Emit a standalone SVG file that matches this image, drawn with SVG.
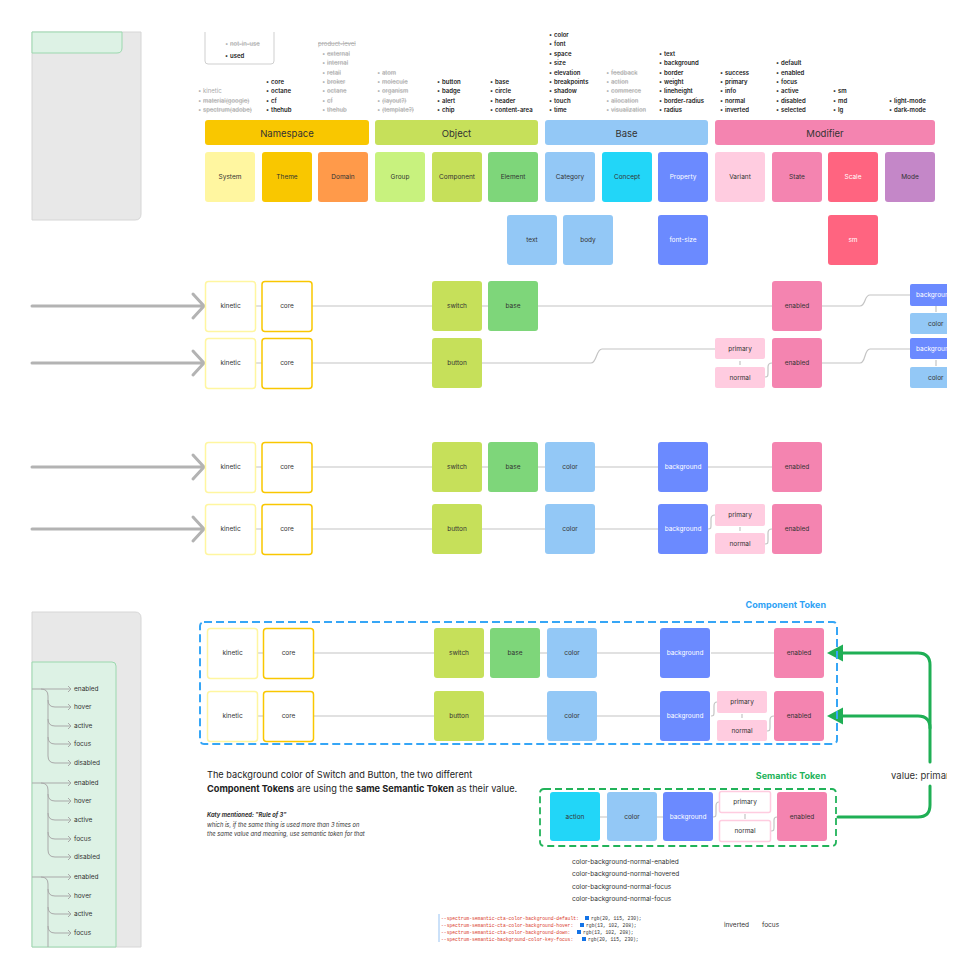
<svg xmlns="http://www.w3.org/2000/svg" width="980" height="980" viewBox="0 0 980 980">
<defs>
<style>
text{font-family:Inter,"Noto Sans","Liberation Sans",sans-serif;dominant-baseline:central}
.t{font-size:6.5px;fill:#333;text-anchor:middle}
.w{fill:#fff}
.h{font-size:9.5px;fill:#333;text-anchor:middle}
.li{font-size:6px;font-weight:600;fill:#222}
.lg{font-size:6px;fill:#aaa}
.s{text-decoration:line-through}
.ln{fill:none;stroke:#c4c4c4;stroke-width:1.2}
.ar{fill:none;stroke:#b3b3b3;stroke-width:3;stroke-linecap:round;stroke-linejoin:round}
.tr{fill:none;stroke:#a9a9a9;stroke-width:1}
.gr{fill:none;stroke:#1faf55;stroke-width:3;stroke-linecap:round}
.ti{font-size:5.8px;fill:#333}
.code{font-family:"Liberation Mono",monospace;font-size:4.7px}
</style>
<clipPath id="clipR"><rect x="0" y="0" width="947" height="980"/></clipPath>
</defs>
<rect width="980" height="980" fill="#fff"/>

<!-- top-left panel -->
<g id="panel-top">
<path d="M32,32 H141 V214 Q141,220 135,220 H32 Z" fill="#e8e8e8" stroke="#d6d6d6" stroke-width="1"/>
<path d="M32,32 H122 V48 Q122,53 117,53 H32 Z" fill="#ddf2e5" stroke="#9bd8ae" stroke-width="1"/>
</g>

<!-- legend -->
<g id="legend">
<path d="M205,32 V61 Q205,64 208,64 H271 Q274,64 274,61 V32" fill="#fff" stroke="#cfcfcf" stroke-width="1"/>
<text y="43"><tspan x="225" class="lg">•</tspan><tspan x="230" class="lg s">not-in-use</tspan></text>
<text y="55"><tspan x="225" class="li">•</tspan><tspan x="230" class="li">used</tspan></text>
</g>

<!-- lists -->
<g id="lists">
<text y="90"><tspan x="198" class="lg">•</tspan><tspan x="203" class="lg">kinetic</tspan></text>
<text y="100"><tspan x="198" class="lg">•</tspan><tspan x="203" class="lg s">material(google)</tspan></text>
<text y="109"><tspan x="198" class="lg">•</tspan><tspan x="203" class="lg s">spectrum(adobe)</tspan></text>

<text y="81"><tspan x="266" class="li">•</tspan><tspan x="271" class="li">core</tspan></text>
<text y="90"><tspan x="266" class="li">•</tspan><tspan x="271" class="li">octane</tspan></text>
<text y="100"><tspan x="266" class="li">•</tspan><tspan x="271" class="li">cf</tspan></text>
<text y="109"><tspan x="266" class="li">•</tspan><tspan x="271" class="li">thehub</tspan></text>

<text x="318" y="43" class="lg s">product-level</text>
<text y="53"><tspan x="322" class="lg">•</tspan><tspan x="327" class="lg s">external</tspan></text>
<text y="62"><tspan x="322" class="lg">•</tspan><tspan x="327" class="lg s">internal</tspan></text>
<text y="72"><tspan x="322" class="lg">•</tspan><tspan x="327" class="lg s">retail</tspan></text>
<text y="81"><tspan x="322" class="lg">•</tspan><tspan x="327" class="lg s">broker</tspan></text>
<text y="90"><tspan x="322" class="lg">•</tspan><tspan x="327" class="lg s">octane</tspan></text>
<text y="100"><tspan x="322" class="lg">•</tspan><tspan x="327" class="lg s">cf</tspan></text>
<text y="109"><tspan x="322" class="lg">•</tspan><tspan x="327" class="lg s">thehub</tspan></text>

<text y="72"><tspan x="377" class="lg">•</tspan><tspan x="382" class="lg s">atom</tspan></text>
<text y="81"><tspan x="377" class="lg">•</tspan><tspan x="382" class="lg s">molecule</tspan></text>
<text y="90"><tspan x="377" class="lg">•</tspan><tspan x="382" class="lg s">organism</tspan></text>
<text y="100"><tspan x="377" class="lg">•</tspan><tspan x="382" class="lg s">(layout?)</tspan></text>
<text y="109"><tspan x="377" class="lg">•</tspan><tspan x="382" class="lg s">(template?)</tspan></text>

<text y="81"><tspan x="437" class="li">•</tspan><tspan x="442" class="li">button</tspan></text>
<text y="90"><tspan x="437" class="li">•</tspan><tspan x="442" class="li">badge</tspan></text>
<text y="100"><tspan x="437" class="li">•</tspan><tspan x="442" class="li">alert</tspan></text>
<text y="109"><tspan x="437" class="li">•</tspan><tspan x="442" class="li">chip</tspan></text>

<text y="81"><tspan x="490" class="li">•</tspan><tspan x="495" class="li">base</tspan></text>
<text y="90"><tspan x="490" class="li">•</tspan><tspan x="495" class="li">circle</tspan></text>
<text y="100"><tspan x="490" class="li">•</tspan><tspan x="495" class="li">header</tspan></text>
<text y="109"><tspan x="490" class="li">•</tspan><tspan x="495" class="li">content-area</tspan></text>

<text y="34"><tspan x="549" class="li">•</tspan><tspan x="554" class="li">color</tspan></text>
<text y="43"><tspan x="549" class="li">•</tspan><tspan x="554" class="li">font</tspan></text>
<text y="53"><tspan x="549" class="li">•</tspan><tspan x="554" class="li">space</tspan></text>
<text y="62"><tspan x="549" class="li">•</tspan><tspan x="554" class="li">size</tspan></text>
<text y="72"><tspan x="549" class="li">•</tspan><tspan x="554" class="li">elevation</tspan></text>
<text y="81"><tspan x="549" class="li">•</tspan><tspan x="554" class="li">breakpoints</tspan></text>
<text y="90"><tspan x="549" class="li">•</tspan><tspan x="554" class="li">shadow</tspan></text>
<text y="100"><tspan x="549" class="li">•</tspan><tspan x="554" class="li">touch</tspan></text>
<text y="109"><tspan x="549" class="li">•</tspan><tspan x="554" class="li">time</tspan></text>

<text y="72"><tspan x="606" class="lg">•</tspan><tspan x="611" class="lg s">feedback</tspan></text>
<text y="81"><tspan x="606" class="lg">•</tspan><tspan x="611" class="lg s">action</tspan></text>
<text y="90"><tspan x="606" class="lg">•</tspan><tspan x="611" class="lg s">commerce</tspan></text>
<text y="100"><tspan x="606" class="lg">•</tspan><tspan x="611" class="lg s">allocation</tspan></text>
<text y="109"><tspan x="606" class="lg">•</tspan><tspan x="611" class="lg s">visualization</tspan></text>

<text y="53"><tspan x="659" class="li">•</tspan><tspan x="664" class="li">text</tspan></text>
<text y="62"><tspan x="659" class="li">•</tspan><tspan x="664" class="li">background</tspan></text>
<text y="72"><tspan x="659" class="li">•</tspan><tspan x="664" class="li">border</tspan></text>
<text y="81"><tspan x="659" class="li">•</tspan><tspan x="664" class="li">weight</tspan></text>
<text y="90"><tspan x="659" class="li">•</tspan><tspan x="664" class="li">lineheight</tspan></text>
<text y="100"><tspan x="659" class="li">•</tspan><tspan x="664" class="li">border-radius</tspan></text>
<text y="109"><tspan x="659" class="li">•</tspan><tspan x="664" class="li">radius</tspan></text>

<text y="72"><tspan x="720" class="li">•</tspan><tspan x="725" class="li">success</tspan></text>
<text y="81"><tspan x="720" class="li">•</tspan><tspan x="725" class="li">primary</tspan></text>
<text y="90"><tspan x="720" class="li">•</tspan><tspan x="725" class="li">info</tspan></text>
<text y="100"><tspan x="720" class="li">•</tspan><tspan x="725" class="li">normal</tspan></text>
<text y="109"><tspan x="720" class="li">•</tspan><tspan x="725" class="li">inverted</tspan></text>

<text y="62"><tspan x="776" class="li">•</tspan><tspan x="781" class="li">default</tspan></text>
<text y="72"><tspan x="776" class="li">•</tspan><tspan x="781" class="li">enabled</tspan></text>
<text y="81"><tspan x="776" class="li">•</tspan><tspan x="781" class="li">focus</tspan></text>
<text y="90"><tspan x="776" class="li">•</tspan><tspan x="781" class="li">active</tspan></text>
<text y="100"><tspan x="776" class="li">•</tspan><tspan x="781" class="li">disabled</tspan></text>
<text y="109"><tspan x="776" class="li">•</tspan><tspan x="781" class="li">selected</tspan></text>

<text y="90"><tspan x="833" class="li">•</tspan><tspan x="838" class="li">sm</tspan></text>
<text y="100"><tspan x="833" class="li">•</tspan><tspan x="838" class="li">md</tspan></text>
<text y="109"><tspan x="833" class="li">•</tspan><tspan x="838" class="li">lg</tspan></text>

<text y="100"><tspan x="889" class="li">•</tspan><tspan x="894" class="li">light-mode</tspan></text>
<text y="109"><tspan x="889" class="li">•</tspan><tspan x="894" class="li">dark-mode</tspan></text>
</g>

<!-- headers -->
<g id="h-namespace"><rect x="205" y="120" width="164" height="25" rx="3" fill="#f9c700"/><text x="287" y="133" class="h">Namespace</text></g>
<g id="h-object"><rect x="375" y="120" width="163" height="25" rx="3" fill="#c6e05a"/><text x="456.5" y="133" class="h">Object</text></g>
<g id="h-base"><rect x="545" y="120" width="163" height="25" rx="3" fill="#93c8f6"/><text x="626.5" y="133" class="h">Base</text></g>
<g id="h-modifier"><rect x="715" y="120" width="220" height="25" rx="3" fill="#f484b0"/><text x="825" y="133" class="h">Modifier</text></g>

<!-- category row -->
<g id="c-system"><rect x="205" y="152" width="50" height="50" rx="3" fill="#fff6a0"/><text x="230" y="177" class="t">System</text></g>
<g id="c-theme"><rect x="262" y="152" width="50" height="50" rx="3" fill="#f9c700"/><text x="287" y="177" class="t">Theme</text></g>
<g id="c-domain"><rect x="318" y="152" width="50" height="50" rx="3" fill="#ff9a4a"/><text x="343" y="177" class="t">Domain</text></g>
<g id="c-group"><rect x="375" y="152" width="50" height="50" rx="3" fill="#c8f27e"/><text x="400" y="177" class="t">Group</text></g>
<g id="c-component"><rect x="432" y="152" width="50" height="50" rx="3" fill="#c6e05a"/><text x="457" y="177" class="t">Component</text></g>
<g id="c-element"><rect x="488" y="152" width="50" height="50" rx="3" fill="#7ed67a"/><text x="513" y="177" class="t">Element</text></g>
<g id="c-category"><rect x="545" y="152" width="50" height="50" rx="3" fill="#93c8f6"/><text x="570" y="177" class="t">Category</text></g>
<g id="c-concept"><rect x="602" y="152" width="50" height="50" rx="3" fill="#22d6f8"/><text x="627" y="177" class="t">Concept</text></g>
<g id="c-property"><rect x="658" y="152" width="50" height="50" rx="3" fill="#6b8aff"/><text x="683" y="177" class="t w">Property</text></g>
<g id="c-variant"><rect x="715" y="152" width="50" height="50" rx="3" fill="#ffcce0"/><text x="740" y="177" class="t">Variant</text></g>
<g id="c-state"><rect x="772" y="152" width="50" height="50" rx="3" fill="#f484b0"/><text x="797" y="177" class="t">State</text></g>
<g id="c-scale"><rect x="828" y="152" width="50" height="50" rx="3" fill="#ff6480"/><text x="853" y="177" class="t w">Scale</text></g>
<g id="c-mode"><rect x="885" y="152" width="50" height="50" rx="3" fill="#c487c8"/><text x="910" y="177" class="t">Mode</text></g>

<g id="e-text"><rect x="507" y="215" width="50" height="50" rx="3" fill="#93c8f6"/><text x="532" y="240" class="t">text</text></g>
<g id="e-body"><rect x="563" y="215" width="50" height="50" rx="3" fill="#93c8f6"/><text x="588" y="240" class="t">body</text></g>
<g id="e-fontsize"><rect x="658" y="215" width="50" height="50" rx="3" fill="#6b8aff"/><text x="683" y="240" class="t w">font-size</text></g>
<g id="e-sm"><rect x="828" y="215" width="50" height="50" rx="3" fill="#ff6480"/><text x="853" y="240" class="t w">sm</text></g>

<!-- connectors -->
<g id="connectors">
<path class="ar" d="M32,306 H203 M193,294 L204,306 L193,318"/>
<path class="ar" d="M32,363 H203 M193,351 L204,363 L193,375"/>
<path class="ar" d="M32,467 H203 M193,455 L204,467 L193,479"/>
<path class="ar" d="M32,529 H203 M193,517 L204,529 L193,541"/>
<path class="ln" d="M255,306 H262 M312,306 H432 M482,306 H488 M538,306 H772"/>
<path class="ln" d="M822,306 H860 C866,306 864,295 870,295 H910 M936,306 V312"/>
<path class="ln" d="M255,363 H262 M312,363 H432 M482,363 H591 C597,363 596,349 602,349 H715 M740,361 V365"/>
<path class="ln" d="M765,377 C768,377 768,376 768,372 V367 C768,364 769,363 772,363"/>
<path class="ln" d="M822,363 H860 C866,363 864,349 870,349 H910 M936,360 V366"/>
<path class="ln" d="M255,467 H262 M312,467 H432 M482,467 H488 M538,467 H545 M595,467 H658 M708,467 H772"/>
<path class="ln" d="M255,529 H262 M312,529 H432 M482,529 H545 M595,529 H658 M740,527 V531"/>
<path class="ln" d="M708,529 C711,529 711,528 711,525 V519 C711,516 712,515 715,515"/>
<path class="ln" d="M765,544 C768,544 768,543 768,540 V533 C768,530 769,529 772,529"/>
<path class="ln" d="M257,653 H263 M313,653 H434 M484,653 H490 M540,653 H547 M597,653 H660 M711,653 H774"/>
<path class="ln" d="M257,716 H263 M313,716 H434 M484,716 H547 M597,716 H660 M742,714 V718"/>
<path class="ln" d="M711,716 C714,716 714,715 714,712 V706 C714,703 715,702 717,702"/>
<path class="ln" d="M767,731 C770,731 770,730 770,727 V720 C770,717 771,716 774,716"/>
<path class="ln" d="M600,817 H607 M657,817 H663 M745,814 V819"/>
<path class="ln" d="M713,817 C716,817 716,816 716,813 V806 C716,803 717,802 719,802"/>
<path class="ln" d="M771,831 C774,831 774,830 774,827 V820 C774,818 775,817 777,817"/>
<path class="gr" d="M838,817 H918 Q930,817 930,805 V786"/>
<path class="gr" d="M930,762 V665 Q930,653 918,653 H840"/>
<path class="gr" d="M930,728 Q930,716 918,716 H840"/>
<polygon points="827,653 843,644.5 843,661.5" fill="#1faf55"/>
<polygon points="827,716 843,707.5 843,724.5" fill="#1faf55"/>
</g>

<!-- row A nodes -->
<g id="rA-kinetic"><rect x="205.5" y="281.5" width="50" height="50" rx="3" fill="#fff" stroke="#fff6a0" stroke-width="1.5"/><text x="230.5" y="306" class="t">kinetic</text></g>
<g id="rA-core"><rect x="262" y="281.5" width="50" height="50" rx="3" fill="#fff" stroke="#f9c700" stroke-width="1.5"/><text x="287" y="306" class="t">core</text></g>
<g id="rA-switch"><rect x="432" y="281" width="50" height="50" rx="3" fill="#c6e05a"/><text x="457" y="306" class="t">switch</text></g>
<g id="rA-base"><rect x="488" y="281" width="50" height="50" rx="3" fill="#7ed67a"/><text x="513" y="306" class="t">base</text></g>
<g id="rA-enabled"><rect x="772" y="281" width="50" height="50" rx="3" fill="#f484b0"/><text x="797" y="306" class="t">enabled</text></g>
<g clip-path="url(#clipR)">
<g id="rA-background"><rect x="910" y="284" width="50" height="22" rx="2" fill="#6b8aff"/><text x="916" y="295" class="t w" style="text-anchor:start">backgroun</text></g>
<g id="rA-color"><rect x="910" y="313" width="50" height="21" rx="2" fill="#93c8f6"/><text x="928" y="323.5" class="t" style="text-anchor:start">color</text></g>
<g id="rB-background"><rect x="910" y="338" width="50" height="21" rx="2" fill="#6b8aff"/><text x="916" y="348.5" class="t w" style="text-anchor:start">backgroun</text></g>
<g id="rB-color"><rect x="910" y="367" width="50" height="21" rx="2" fill="#93c8f6"/><text x="928" y="377.5" class="t" style="text-anchor:start">color</text></g>
</g>

<!-- row B nodes -->
<g id="rB-kinetic"><rect x="205.5" y="338.5" width="50" height="50" rx="3" fill="#fff" stroke="#fff6a0" stroke-width="1.5"/><text x="230.5" y="363" class="t">kinetic</text></g>
<g id="rB-core"><rect x="262" y="338.5" width="50" height="50" rx="3" fill="#fff" stroke="#f9c700" stroke-width="1.5"/><text x="287" y="363" class="t">core</text></g>
<g id="rB-button"><rect x="432" y="338" width="50" height="50" rx="3" fill="#c6e05a"/><text x="457" y="363" class="t">button</text></g>
<g id="rB-primary"><rect x="715" y="338" width="50" height="21" rx="2" fill="#ffcce0"/><text x="740" y="348.5" class="t">primary</text></g>
<g id="rB-normal"><rect x="715" y="367" width="50" height="21" rx="2" fill="#ffcce0"/><text x="740" y="377.5" class="t">normal</text></g>
<g id="rB-enabled"><rect x="772" y="338" width="50" height="50" rx="3" fill="#f484b0"/><text x="797" y="363" class="t">enabled</text></g>

<!-- row C -->
<g id="rC-kinetic"><rect x="205.5" y="442.5" width="50" height="50" rx="3" fill="#fff" stroke="#fff6a0" stroke-width="1.5"/><text x="230.5" y="467" class="t">kinetic</text></g>
<g id="rC-core"><rect x="262" y="442.5" width="50" height="50" rx="3" fill="#fff" stroke="#f9c700" stroke-width="1.5"/><text x="287" y="467" class="t">core</text></g>
<g id="rC-switch"><rect x="432" y="442" width="50" height="50" rx="3" fill="#c6e05a"/><text x="457" y="467" class="t">switch</text></g>
<g id="rC-base"><rect x="488" y="442" width="50" height="50" rx="3" fill="#7ed67a"/><text x="513" y="467" class="t">base</text></g>
<g id="rC-color"><rect x="545" y="442" width="50" height="50" rx="3" fill="#93c8f6"/><text x="570" y="467" class="t">color</text></g>
<g id="rC-background"><rect x="658" y="442" width="50" height="50" rx="3" fill="#6b8aff"/><text x="683" y="467" class="t w">background</text></g>
<g id="rC-enabled"><rect x="772" y="442" width="50" height="50" rx="3" fill="#f484b0"/><text x="797" y="467" class="t">enabled</text></g>

<!-- row D -->
<g id="rD-kinetic"><rect x="205.5" y="504.5" width="50" height="50" rx="3" fill="#fff" stroke="#fff6a0" stroke-width="1.5"/><text x="230.5" y="529" class="t">kinetic</text></g>
<g id="rD-core"><rect x="262" y="504.5" width="50" height="50" rx="3" fill="#fff" stroke="#f9c700" stroke-width="1.5"/><text x="287" y="529" class="t">core</text></g>
<g id="rD-button"><rect x="432" y="504" width="50" height="50" rx="3" fill="#c6e05a"/><text x="457" y="529" class="t">button</text></g>
<g id="rD-color"><rect x="545" y="504" width="50" height="50" rx="3" fill="#93c8f6"/><text x="570" y="529" class="t">color</text></g>
<g id="rD-background"><rect x="658" y="504" width="50" height="50" rx="3" fill="#6b8aff"/><text x="683" y="529" class="t w">background</text></g>
<g id="rD-primary"><rect x="715" y="504" width="50" height="22" rx="2" fill="#ffcce0"/><text x="740" y="515" class="t">primary</text></g>
<g id="rD-normal"><rect x="715" y="533" width="50" height="21" rx="2" fill="#ffcce0"/><text x="740" y="543.5" class="t">normal</text></g>
<g id="rD-enabled"><rect x="772" y="504" width="50" height="50" rx="3" fill="#f484b0"/><text x="797" y="529" class="t">enabled</text></g>

<!-- bottom-left panel with tree -->
<g id="panel-bottom">
<path d="M32,612 H135 Q141,612 141,618 V947 H32 Z" fill="#e8e8e8" stroke="#d6d6d6" stroke-width="1"/>
<path d="M32,662 H112 Q116,662 116,666 V947 H32 Z" fill="#ddf2e5" stroke="#9bd8ae" stroke-width="1"/>
<g id="tree">
<path class="tr" d="M32,689 H70 M41,689 Q48,689 48,696 V756 M48,700 Q48,707 55,707 H70 M48,719 Q48,726 55,726 H70 M48,737 Q48,744 55,744 H70 M48,756 Q48,763 55,763 H70"/>
<path class="tr" d="M32,783 H70 M41,783 Q48,783 48,790 V850 M48,794 Q48,801 55,801 H70 M48,813 Q48,820 55,820 H70 M48,832 Q48,839 55,839 H70 M48,850 Q48,857 55,857 H70"/>
<path class="tr" d="M32,877 H70 M41,877 Q48,877 48,884 V947 M48,889 Q48,896 55,896 H70 M48,907 Q48,914 55,914 H70 M48,926 Q48,933 55,933 H70"/>
<path class="tr" d="M68,686 L71,689 L68,692 M68,704 L71,707 L68,710 M68,723 L71,726 L68,729 M68,741 L71,744 L68,747 M68,760 L71,763 L68,766 M68,780 L71,783 L68,786 M68,798 L71,801 L68,804 M68,817 L71,820 L68,823 M68,836 L71,839 L68,842 M68,854 L71,857 L68,860 M68,874 L71,877 L68,880 M68,893 L71,896 L68,899 M68,911 L71,914 L68,917 M68,930 L71,933 L68,936"/>
<g style="font-size:6.5px;fill:#333">
<text x="74" y="689">enabled</text><text x="74" y="707">hover</text><text x="74" y="726">active</text><text x="74" y="744">focus</text><text x="74" y="763">disabled</text>
<text x="74" y="783">enabled</text><text x="74" y="801">hover</text><text x="74" y="820">active</text><text x="74" y="839">focus</text><text x="74" y="857">disabled</text>
<text x="74" y="877">enabled</text><text x="74" y="896">hover</text><text x="74" y="914">active</text><text x="74" y="933">focus</text>
</g>
</g>
</g>

<!-- Component Token box -->
<g id="component-token">
<rect x="200" y="622" width="637" height="122" rx="4" fill="none" stroke="#36a6f6" stroke-width="2" stroke-dasharray="8 4"/>
<text x="826" y="604" style="font-size:9px;font-weight:700;fill:#2ea2f5;text-anchor:end">Component Token</text>
</g>
<g id="rE-kinetic"><rect x="207.5" y="628.5" width="50" height="50" rx="3" fill="#fff" stroke="#fff6a0" stroke-width="1.5"/><text x="232.5" y="653" class="t">kinetic</text></g>
<g id="rE-core"><rect x="263.5" y="628.5" width="50" height="50" rx="3" fill="#fff" stroke="#f9c700" stroke-width="1.5"/><text x="288.5" y="653" class="t">core</text></g>
<g id="rE-switch"><rect x="434" y="628" width="50" height="50" rx="3" fill="#c6e05a"/><text x="459" y="653" class="t">switch</text></g>
<g id="rE-base"><rect x="490" y="628" width="50" height="50" rx="3" fill="#7ed67a"/><text x="515" y="653" class="t">base</text></g>
<g id="rE-color"><rect x="547" y="628" width="50" height="50" rx="3" fill="#93c8f6"/><text x="572" y="653" class="t">color</text></g>
<g id="rE-background"><rect x="660" y="628" width="50" height="50" rx="3" fill="#6b8aff"/><text x="685" y="653" class="t w">background</text></g>
<g id="rE-enabled"><rect x="774" y="628" width="50" height="50" rx="3" fill="#f484b0"/><text x="799" y="653" class="t">enabled</text></g>

<g id="rF-kinetic"><rect x="207.5" y="691.5" width="50" height="50" rx="3" fill="#fff" stroke="#fff6a0" stroke-width="1.5"/><text x="232.5" y="716" class="t">kinetic</text></g>
<g id="rF-core"><rect x="263.5" y="691.5" width="50" height="50" rx="3" fill="#fff" stroke="#f9c700" stroke-width="1.5"/><text x="288.5" y="716" class="t">core</text></g>
<g id="rF-button"><rect x="434" y="691" width="50" height="50" rx="3" fill="#c6e05a"/><text x="459" y="716" class="t">button</text></g>
<g id="rF-color"><rect x="547" y="691" width="50" height="50" rx="3" fill="#93c8f6"/><text x="572" y="716" class="t">color</text></g>
<g id="rF-background"><rect x="660" y="691" width="50" height="50" rx="3" fill="#6b8aff"/><text x="685" y="716" class="t w">background</text></g>
<g id="rF-primary"><rect x="717" y="691" width="50" height="22" rx="2" fill="#ffcce0"/><text x="742" y="702" class="t">primary</text></g>
<g id="rF-normal"><rect x="717" y="720" width="50" height="21" rx="2" fill="#ffcce0"/><text x="742" y="730.5" class="t">normal</text></g>
<g id="rF-enabled"><rect x="774" y="691" width="50" height="50" rx="3" fill="#f484b0"/><text x="799" y="716" class="t">enabled</text></g>

<g clip-path="url(#clipR)"><text x="891" y="775" style="font-size:9.5px;fill:#333">value: primar</text></g>

<!-- Semantic Token box -->
<g id="semantic-token">
<rect x="540" y="789" width="296" height="57" rx="4" fill="none" stroke="#22b35a" stroke-width="1.8" stroke-dasharray="7 4"/>
<text x="826" y="775" style="font-size:9px;font-weight:700;fill:#22b35a;text-anchor:end">Semantic Token</text>
</g>
<g id="s-action"><rect x="550" y="792" width="50" height="49" rx="3" fill="#22d6f8"/><text x="575" y="816.5" class="t">action</text></g>
<g id="s-color"><rect x="607" y="792" width="50" height="49" rx="3" fill="#93c8f6"/><text x="632" y="816.5" class="t">color</text></g>
<g id="s-background"><rect x="663" y="792" width="50" height="49" rx="3" fill="#6b8aff"/><text x="688" y="816.5" class="t w">background</text></g>
<g id="s-primary"><rect x="719.5" y="791.5" width="51" height="21" rx="2" fill="#fff" stroke="#ffcce0" stroke-width="1.5"/><text x="745" y="802" class="t">primary</text></g>
<g id="s-normal"><rect x="719.5" y="820.5" width="51" height="21" rx="2" fill="#fff" stroke="#ffcce0" stroke-width="1.5"/><text x="745" y="831" class="t">normal</text></g>
<g id="s-enabled"><rect x="777" y="792" width="50" height="49" rx="3" fill="#f484b0"/><text x="802" y="816.5" class="t">enabled</text></g>

<!-- explanation text -->
<g id="explain">
<text x="207" y="774" style="font-size:9.2px;fill:#222">The background color of Switch and Button, the two different</text>
<text x="207" y="788" style="font-size:9.2px;fill:#222"><tspan font-weight="700">Component Tokens</tspan> are using the <tspan font-weight="700">same Semantic Token</tspan> as their value.</text>
<text x="207" y="814" class="ti" style="font-style:italic;font-weight:700">Katy mentioned: "Rule of 3"</text>
<text x="207" y="824" class="ti" style="font-style:italic">which is, if the same thing is used more than 3 times on</text>
<text x="207" y="833" class="ti" style="font-style:italic">the same value and meaning, use semantic token for that</text>
</g>

<g id="token-names" style="font-size:6.5px;fill:#333">
<text x="572" y="862">color-background-normal-enabled</text>
<text x="572" y="874">color-background-normal-hovered</text>
<text x="572" y="887">color-background-normal-focus</text>
<text x="572" y="899">color-background-normal-focus</text>
</g>

<g id="code">
<line x1="439" y1="914" x2="439" y2="942" stroke="#7fb4f0" stroke-width="0.8"/>
<text x="441" y="918" class="code" fill="#d93a2b">--spectrum-semantic-cta-color-background-default:</text>
<rect x="585" y="916" width="4" height="4" fill="#1473e6"/><text x="591" y="918" class="code" fill="#333">rgb(20, 115, 230);</text>
<text x="441" y="925" class="code" fill="#d93a2b">--spectrum-semantic-cta-color-background-hover:</text>
<rect x="580" y="923" width="4" height="4" fill="#1473e6"/><text x="586" y="925" class="code" fill="#333">rgb(13, 102, 208);</text>
<text x="441" y="932" class="code" fill="#d93a2b">--spectrum-semantic-cta-color-background-down:</text>
<rect x="577" y="930" width="4" height="4" fill="#1473e6"/><text x="583" y="932" class="code" fill="#333">rgb(13, 102, 208);</text>
<text x="441" y="939" class="code" fill="#d93a2b">--spectrum-semantic-background-color-key-focus:</text>
<rect x="582" y="937" width="4" height="4" fill="#1473e6"/><text x="588" y="939" class="code" fill="#333">rgb(20, 115, 230);</text>
</g>

<g id="misc" style="font-size:6.5px;fill:#333">
<text x="724" y="925">inverted</text>
<text x="762" y="925">focus</text>
</g>
</svg>
